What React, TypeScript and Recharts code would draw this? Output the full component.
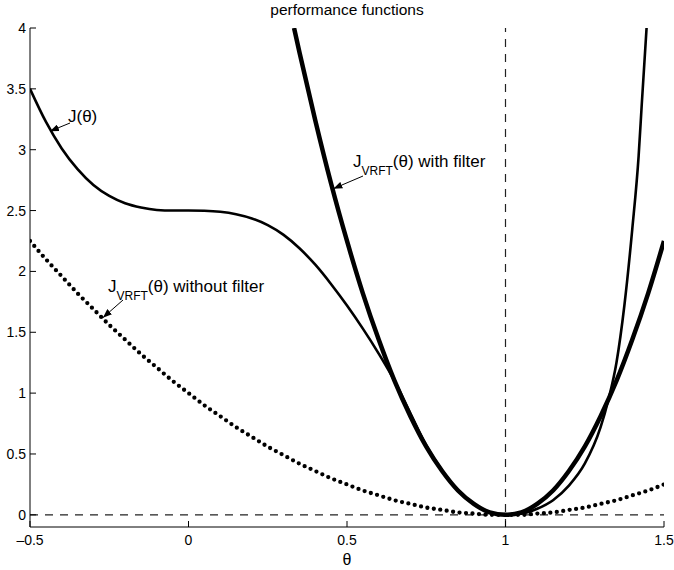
import React from 'react';
import { LineChart, Line, XAxis, YAxis, ReferenceLine } from 'recharts';

// J(theta)
const jTheta = [-0.5, -0.45, -0.4, -0.35, -0.3, -0.25, -0.2, -0.15, -0.1, -0.05, 0, 0.05, 0.1, 0.15, 0.2, 0.25, 0.3, 0.35, 0.4, 0.45, 0.5, 0.55, 0.6, 0.65, 0.7, 0.75, 0.8, 0.85, 0.9, 0.95, 1, 1.05, 1.1, 1.15, 1.2, 1.25, 1.3, 1.325, 1.35, 1.375, 1.4, 1.42, 1.43, 1.445];
const jValue = [3.5, 3.23, 3.01, 2.84, 2.71, 2.62, 2.56, 2.525, 2.505, 2.5, 2.5, 2.498, 2.49, 2.47, 2.435, 2.38, 2.3, 2.19, 2.055, 1.895, 1.72, 1.53, 1.325, 1.1, 0.835, 0.57, 0.365, 0.2, 0.09, 0.02, 0, 0.01, 0.05, 0.12, 0.24, 0.42, 0.72, 0.95, 1.25, 1.72, 2.35, 2.95, 3.38, 4.0];

// J_VRFT(theta) with filter
const fTheta = [0.333, 0.35, 0.4, 0.45, 0.5, 0.55, 0.6, 0.65, 0.7, 0.75, 0.8, 0.85, 0.9, 0.95, 1, 1.05, 1.1, 1.15, 1.2, 1.25, 1.3, 1.35, 1.4, 1.45, 1.5];
const fValue = [4.0, 3.8, 3.24, 2.72, 2.25, 1.82, 1.44, 1.1, 0.81, 0.56, 0.36, 0.2, 0.09, 0.02, 0, 0.02, 0.09, 0.2, 0.36, 0.56, 0.81, 1.1, 1.44, 1.82, 2.25];

// J_VRFT(theta) without filter
const wTheta = [-0.5, -0.45, -0.4, -0.35, -0.3, -0.25, -0.2, -0.15, -0.1, -0.05, 0, 0.05, 0.1, 0.15, 0.2, 0.25, 0.3, 0.35, 0.4, 0.45, 0.5, 0.55, 0.6, 0.65, 0.7, 0.75, 0.8, 0.85, 0.9, 0.95, 1, 1.05, 1.1, 1.15, 1.2, 1.25, 1.3, 1.35, 1.4, 1.45, 1.5];
const wValue = [2.25, 2.1, 1.96, 1.82, 1.69, 1.56, 1.44, 1.32, 1.21, 1.1, 1.0, 0.9, 0.81, 0.72, 0.64, 0.56, 0.49, 0.42, 0.36, 0.3, 0.25, 0.2, 0.16, 0.12, 0.09, 0.06, 0.04, 0.02, 0.01, 0.0, 0, 0.0, 0.01, 0.02, 0.04, 0.06, 0.09, 0.12, 0.16, 0.2, 0.25];

const xTicks = [-0.5, 0, 0.5, 1, 1.5];
const yTicks = [0, 0.5, 1, 1.5, 2, 2.5, 3, 3.5, 4];

const jData = jTheta.map((x, i) => ({ x, y: jValue[i] }));
const fData = fTheta.map((x, i) => ({ x, y: fValue[i] }));
const wData = wTheta.map((x, i) => ({ x, y: wValue[i] }));

const W = 674;
const H = 570;
const FONT = '"Liberation Sans", Arial, Helvetica, sans-serif';

// plot box, used only to place the annotations
const L = 30, R = 664, T = 28, B = 527;
const sx = (v: number) => L + ((v + 0.5) / 2) * (R - L);
const sy = (v: number) => B - ((v + 0.1) / 4.1) * (B - T);

const fmt = (v: number) => (v < 0 ? '\u2013' + Math.abs(v) : String(v));
const TL = 6; // inward tick length

const LeftTick = ({ x, y, payload }: any) => (
  <g>
    <line x1={x + 4} x2={x + 4 + TL} y1={y} y2={y} stroke="#000" />
    <text x={x} y={y + 5} textAnchor="end" fontSize={14} fontFamily={FONT} fill="#000">{fmt(payload.value)}</text>
  </g>
);
const BottomTick = ({ x, y, payload }: any) => (
  <g>
    <line x1={x} x2={x} y1={y - 8} y2={y - 8 - TL} stroke="#000" />
    <text x={x} y={y + 10} textAnchor="middle" fontSize={14} fontFamily={FONT} fill="#000">{fmt(payload.value)}</text>
  </g>
);
const TopTick = ({ x, y }: any) => <line x1={x} x2={x} y1={y} y2={y + TL} stroke="#000" />;
const RightTick = ({ x, y }: any) => <line x1={x} x2={x - TL} y1={y} y2={y} stroke="#000" />;

export default function App() {
  return (
    <div style={{ position: 'absolute', left: 0, top: 0, width: W, height: H, background: '#fff' }}>
      <LineChart width={W} height={H} margin={{ top: T, right: W - R, bottom: 0, left: 0 }}>
        <XAxis xAxisId="b" dataKey="x" type="number" domain={[-0.5, 1.5]} ticks={xTicks} interval={0}
          height={H - B} tickSize={0} tickMargin={8} tick={<BottomTick />} tickLine={false}
          axisLine={{ stroke: '#000' }} allowDataOverflow />
        <XAxis xAxisId="t" orientation="top" dataKey="x" type="number" domain={[-0.5, 1.5]} ticks={xTicks}
          interval={0} height={0} tickSize={0} tickMargin={0} tick={<TopTick />} tickLine={false}
          axisLine={{ stroke: '#000' }} allowDataOverflow />
        <YAxis yAxisId="l" type="number" domain={[-0.1, 4]} ticks={yTicks} interval={0} width={L}
          tickSize={0} tickMargin={4} tick={<LeftTick />} tickLine={false}
          axisLine={{ stroke: '#000' }} allowDataOverflow />
        <YAxis yAxisId="r" orientation="right" type="number" domain={[-0.1, 4]} ticks={yTicks} interval={0}
          width={0} tickSize={0} tickMargin={0} tick={<RightTick />} tickLine={false}
          axisLine={{ stroke: '#000' }} allowDataOverflow />
        <ReferenceLine xAxisId="b" yAxisId="l" y={0} stroke="#222" strokeWidth={1.2} strokeDasharray="8 7" />
        <ReferenceLine xAxisId="b" yAxisId="l" x={1} stroke="#222" strokeWidth={1.2} strokeDasharray="8 7" />
        <Line xAxisId="b" yAxisId="l" data={wData} dataKey="y" type="monotone" stroke="#000" strokeWidth={4.3}
          strokeDasharray="0 6.5" strokeLinecap="round" dot={false} isAnimationActive={false} />
        <Line xAxisId="b" yAxisId="l" data={fData} dataKey="y" type="monotone" stroke="#000" strokeWidth={4.5}
          dot={false} isAnimationActive={false} />
        <Line xAxisId="b" yAxisId="l" data={jData} dataKey="y" type="monotone" stroke="#000" strokeWidth={2.6}
          dot={false} isAnimationActive={false} />
      </LineChart>
      <svg width={W} height={H} style={{ position: 'absolute', left: 0, top: 0, pointerEvents: 'none' }}
        fontFamily={FONT} fill="#000">
        <defs>
          <marker id="ah" markerUnits="userSpaceOnUse" markerWidth={9} markerHeight={7} refX={9} refY={3.5} orient="auto">
            <path d="M0,0 L9,3.5 L0,7 z" fill="#000" />
          </marker>
        </defs>
        <text x={(L + R) / 2} y={15} textAnchor="middle" fontSize={15.5}>performance functions</text>
        <text x={(L + R) / 2} y={565} textAnchor="middle" fontSize={16}>θ</text>

        <text x={68} y={122} fontSize={17}>J(θ)</text>
        <line x1={70} y1={123} x2={sx(-0.437)} y2={sy(3.16) + 1} stroke="#000" strokeWidth={1} markerEnd="url(#ah)" />

        <text x={353} y={167} fontSize={17}>J<tspan fontSize={12} dy={8}>VRFT</tspan><tspan dy={-8}>(θ) with filter</tspan></text>
        <line x1={363} y1={176} x2={sx(0.457)} y2={sy(2.68)} stroke="#000" strokeWidth={1} markerEnd="url(#ah)" />

        <text x={108} y={292} fontSize={17}>J<tspan fontSize={12} dy={8}>VRFT</tspan><tspan dy={-8}>(θ) without filter</tspan></text>
        <line x1={123} y1={300} x2={sx(-0.27)} y2={sy(1.62)} stroke="#000" strokeWidth={1} markerEnd="url(#ah)" />
      </svg>
    </div>
  );
}
